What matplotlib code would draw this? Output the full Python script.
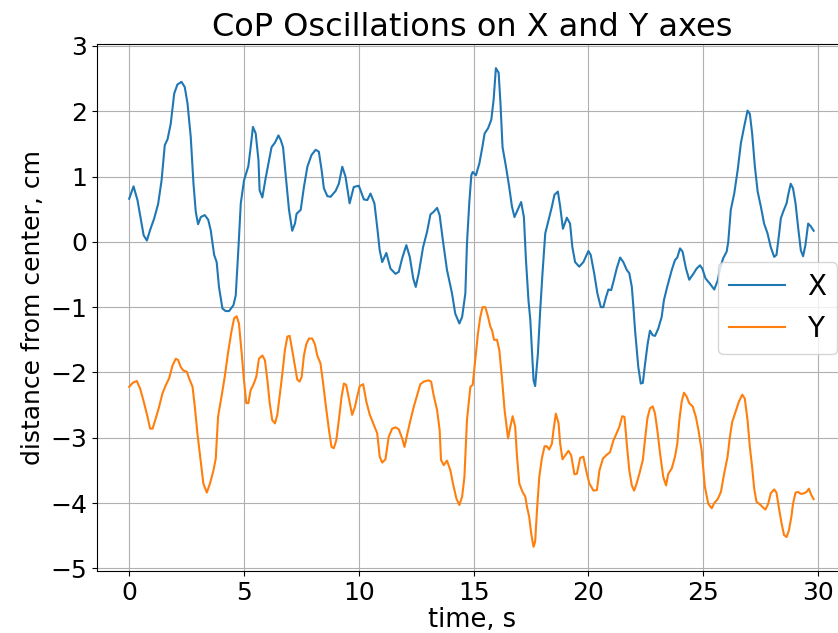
import matplotlib
matplotlib.use("Agg")
import matplotlib.pyplot as plt

# Centre-of-pressure displacement along X (time in s, distance in cm)
time_x = [0.00, 0.19, 0.36, 0.63, 0.77, 0.91, 1.09, 1.26, 1.41, 1.55, 1.67, 1.81, 1.96, 2.10, 2.28, 2.42,
          2.54, 2.68, 2.80, 2.90, 3.00, 3.12, 3.29, 3.44, 3.55, 3.70, 3.81, 3.91, 4.06, 4.20, 4.35, 4.54,
          4.64, 4.76, 4.86, 5.00, 5.19, 5.29, 5.39, 5.51, 5.63, 5.68, 5.80, 5.94, 6.09, 6.20, 6.35, 6.50,
          6.60, 6.70, 6.81, 6.96, 7.10, 7.22, 7.29, 7.47, 7.61, 7.76, 7.94, 8.12, 8.26, 8.38, 8.48, 8.63,
          8.77, 8.99, 9.13, 9.28, 9.42, 9.60, 9.78, 10.00, 10.22, 10.37, 10.51, 10.68, 10.80, 10.91, 11.02,
          11.20, 11.38, 11.60, 11.74, 11.89, 12.07, 12.22, 12.37, 12.48, 12.61, 12.80, 12.97, 13.12, 13.26,
          13.41, 13.52, 13.67, 13.84, 14.06, 14.20, 14.38, 14.50, 14.64, 14.71, 14.81, 14.90, 14.96, 15.10,
          15.25, 15.37, 15.48, 15.63, 15.77, 15.87, 15.97, 16.09, 16.17, 16.26, 16.41, 16.55, 16.67, 16.78,
          16.93, 17.07, 17.19, 17.28, 17.39, 17.47, 17.61, 17.68, 17.80, 17.90, 18.00, 18.12, 18.26, 18.41,
          18.52, 18.67, 18.77, 18.89, 19.06, 19.20, 19.30, 19.42, 19.60, 19.78, 20.00, 20.10, 20.25, 20.39,
          20.54, 20.65, 20.77, 20.87, 20.99, 21.09, 21.23, 21.38, 21.52, 21.67, 21.78, 21.89, 21.96, 22.03,
          22.17, 22.28, 22.37, 22.47, 22.58, 22.68, 22.80, 22.90, 23.04, 23.19, 23.29, 23.43, 23.63, 23.77,
          23.87, 23.99, 24.10, 24.25, 24.39, 24.57, 24.71, 24.86, 24.96, 25.10, 25.29, 25.48, 25.63, 25.73,
          25.87, 26.02, 26.09, 26.20, 26.35, 26.50, 26.64, 26.78, 26.93, 27.03, 27.13, 27.25, 27.37, 27.51,
          27.65, 27.80, 27.94, 28.09, 28.19, 28.29, 28.38, 28.48, 28.63, 28.70, 28.81, 28.91, 29.02, 29.13,
          29.25, 29.35, 29.45, 29.57, 29.68, 29.81]
cop_x = [0.66, 0.85, 0.64, 0.10, 0.02, 0.18, 0.36, 0.58, 0.94, 1.48, 1.57, 1.81, 2.27, 2.41, 2.45, 2.37,
         2.12, 1.61, 0.89, 0.46, 0.27, 0.38, 0.41, 0.34, 0.18, -0.20, -0.31, -0.69, -1.02, -1.06, -1.06, -0.97,
         -0.82, -0.08, 0.59, 0.94, 1.16, 1.45, 1.76, 1.66, 1.25, 0.79, 0.68, 0.97, 1.25, 1.45, 1.52, 1.63,
         1.56, 1.45, 1.05, 0.49, 0.17, 0.28, 0.43, 0.49, 0.84, 1.15, 1.33, 1.41, 1.38, 1.10, 0.82, 0.70,
         0.69, 0.78, 0.89, 1.15, 1.00, 0.59, 0.84, 0.86, 0.65, 0.64, 0.74, 0.59, 0.23, -0.13, -0.31,
         -0.17, -0.41, -0.49, -0.46, -0.25, -0.05, -0.23, -0.56, -0.69, -0.48, -0.08, 0.15, 0.42, 0.46,
         0.52, 0.41, 0.00, -0.43, -0.79, -1.10, -1.25, -1.15, -0.79, -0.03, 0.59, 1.02, 1.07, 1.02,
         1.20, 1.43, 1.66, 1.74, 1.87, 2.17, 2.66, 2.59, 2.12, 1.45, 1.15, 0.84, 0.54, 0.38,
         0.50, 0.61, 0.38, -0.28, -0.90, -1.20, -2.12, -2.21, -1.71, -1.05, -0.48, 0.13, 0.33, 0.54,
         0.72, 0.77, 0.54, 0.20, 0.37, 0.28, -0.08, -0.31, -0.38, -0.31, -0.14, -0.20, -0.48, -0.79,
         -1.00, -1.00, -0.84, -0.73, -0.74, -0.61, -0.41, -0.24, -0.31, -0.43, -0.48, -0.69, -1.00, -1.35,
         -1.91, -2.17, -2.16, -1.86, -1.56, -1.36, -1.43, -1.44, -1.33, -1.15, -0.89, -0.69, -0.43, -0.28,
         -0.24, -0.10, -0.15, -0.41, -0.58, -0.49, -0.41, -0.36, -0.41, -0.56, -0.64, -0.73, -0.59, -0.41,
         -0.25, -0.15, 0.00, 0.49, 0.74, 1.10, 1.51, 1.76, 2.01, 1.96, 1.66, 1.15, 0.77, 0.54,
         0.28, 0.13, -0.08, -0.23, -0.20, 0.08, 0.36, 0.46, 0.59, 0.72, 0.89, 0.82, 0.59, 0.23,
         -0.13, -0.22, -0.05, 0.28, 0.24, 0.17]

# Centre-of-pressure displacement along Y
time_y = [0.00, 0.15, 0.33, 0.48, 0.65, 0.80, 0.91, 1.02, 1.16, 1.30, 1.45, 1.60, 1.74, 1.89, 2.03, 2.13,
          2.25, 2.36, 2.51, 2.61, 2.76, 2.86, 2.97, 3.09, 3.23, 3.38, 3.52, 3.67, 3.77, 3.87, 4.02, 4.16,
          4.30, 4.45, 4.57, 4.68, 4.78, 4.90, 5.00, 5.10, 5.19, 5.29, 5.43, 5.54, 5.65, 5.80, 5.91, 6.02,
          6.12, 6.23, 6.35, 6.45, 6.55, 6.67, 6.78, 6.89, 6.99, 7.10, 7.22, 7.32, 7.42, 7.51, 7.61, 7.71,
          7.83, 7.97, 8.09, 8.19, 8.33, 8.43, 8.55, 8.70, 8.81, 8.91, 9.02, 9.13, 9.25, 9.35, 9.45, 9.57,
          9.71, 9.83, 9.93, 10.04, 10.19, 10.33, 10.48, 10.63, 10.80, 10.91, 11.02, 11.16, 11.30, 11.45,
          11.60, 11.74, 11.89, 11.99, 12.10, 12.25, 12.39, 12.54, 12.68, 12.83, 13.04, 13.15, 13.26, 13.41,
          13.52, 13.58, 13.70, 13.84, 13.99, 14.10, 14.25, 14.38, 14.50, 14.60, 14.71, 14.86, 14.96, 15.07,
          15.19, 15.29, 15.39, 15.51, 15.63, 15.73, 15.80, 15.89, 16.02, 16.12, 16.23, 16.35, 16.50, 16.60,
          16.70, 16.81, 16.89, 16.99, 17.13, 17.25, 17.32, 17.42, 17.51, 17.61, 17.68, 17.76, 17.86, 17.97,
          18.09, 18.19, 18.29, 18.41, 18.48, 18.58, 18.70, 18.77, 18.87, 18.99, 19.13, 19.25, 19.39, 19.50,
          19.64, 19.78, 19.90, 20.04, 20.22, 20.37, 20.48, 20.63, 20.77, 20.94, 21.09, 21.23, 21.35, 21.47,
          21.57, 21.67, 21.78, 21.89, 21.99, 22.10, 22.22, 22.37, 22.47, 22.57, 22.68, 22.80, 22.90, 23.00,
          23.12, 23.26, 23.38, 23.48, 23.63, 23.77, 23.87, 23.96, 24.06, 24.16, 24.28, 24.39, 24.54, 24.68,
          24.80, 24.93, 25.07, 25.22, 25.37, 25.48, 25.63, 25.77, 25.91, 26.06, 26.16, 26.26, 26.41, 26.55,
          26.70, 26.81, 26.93, 27.03, 27.13, 27.22, 27.32, 27.47, 27.61, 27.71, 27.83, 27.94, 28.09, 28.19,
          28.29, 28.41, 28.52, 28.63, 28.73, 28.84, 28.91, 29.02, 29.13, 29.25, 29.39, 29.50, 29.60, 29.71,
          29.81]
cop_y = [-2.22, -2.16, -2.13, -2.25, -2.47, -2.68, -2.86, -2.86, -2.70, -2.53, -2.32, -2.19, -2.09, -1.89, -1.79, -1.81,
         -1.92, -1.97, -1.99, -2.09, -2.22, -2.53, -2.93, -3.29, -3.70, -3.84, -3.70, -3.50, -3.32, -2.68, -2.37, -2.07,
         -1.71, -1.38, -1.17, -1.14, -1.25, -1.71, -2.12, -2.47, -2.47, -2.27, -2.17, -2.06, -1.79, -1.74, -1.81, -2.12,
         -2.47, -2.73, -2.78, -2.65, -2.37, -2.02, -1.66, -1.45, -1.44, -1.66, -1.91, -2.11, -2.14, -2.07, -1.74, -1.57,
         -1.48, -1.48, -1.57, -1.74, -1.86, -2.12, -2.47, -2.88, -3.14, -3.16, -3.04, -2.73, -2.37, -2.17, -2.19, -2.40,
         -2.65, -2.53, -2.37, -2.21, -2.18, -2.45, -2.65, -2.78, -2.93, -3.29, -3.38, -3.33, -2.99, -2.86,
         -2.84, -2.87, -3.01, -3.14, -2.96, -2.73, -2.53, -2.35, -2.18, -2.14, -2.12, -2.14, -2.35, -2.58,
         -2.88, -3.34, -3.42, -3.35, -3.50, -3.70, -3.93, -4.03, -3.90, -3.60, -2.73, -2.22, -2.19, -1.81,
         -1.40, -1.15, -1.00, -1.00, -1.15, -1.30, -1.35, -1.50, -1.50, -1.66, -2.07, -2.58, -3.01, -2.83,
         -2.67, -2.83, -3.29, -3.70, -3.83, -3.90, -4.05, -4.21, -4.47, -4.67, -4.59, -4.11, -3.60, -3.32,
         -3.13, -3.13, -3.18, -3.09, -2.88, -2.63, -2.78, -3.09, -3.33, -3.27, -3.20, -3.27, -3.56, -3.55,
         -3.31, -3.29, -3.50, -3.70, -3.81, -3.80, -3.50, -3.32, -3.27, -3.22, -3.04, -2.93, -2.83, -2.67,
         -2.68, -3.09, -3.50, -3.73, -3.81, -3.70, -3.55, -3.34, -3.01, -2.70, -2.55, -2.52, -2.63, -2.88,
         -3.24, -3.60, -3.73, -3.55, -3.47, -3.29, -3.09, -2.73, -2.45, -2.31, -2.37, -2.47, -2.52, -2.68,
         -2.90, -3.19, -3.75, -4.01, -4.08, -4.00, -3.94, -3.83, -3.55, -3.29, -2.99, -2.76, -2.60, -2.45,
         -2.34, -2.40, -2.73, -3.14, -3.45, -3.78, -3.98, -4.02, -4.07, -4.10, -4.01, -3.85, -3.79, -3.84,
         -4.06, -4.31, -4.49, -4.52, -4.42, -4.21, -4.01, -3.84, -3.83, -3.86, -3.85, -3.83, -3.78, -3.88,
         -3.94]

x_ticks = [0, 5, 10, 15, 20, 25, 30]
y_ticks = [-5, -4, -3, -2, -1, 0, 1, 2, 3]

fig = plt.figure(figsize=(8.38, 6.33), dpi=100)
ax = fig.add_axes([0.1158, 0.098, 0.896, 0.8325])

ax.plot(time_x, cop_x, color="tab:blue", linewidth=1.5, label="X")
ax.plot(time_y, cop_y, color="tab:orange", linewidth=1.5, label="Y")

ax.set_xlim(-1.40, 31.3)
ax.set_ylim(-5.04, 3.03)
ax.set_xticks(x_ticks)
ax.set_yticks(y_ticks)
ax.tick_params(labelsize=18)
ax.grid(True)

ax.set_title("CoP Oscillations on X and Y axes", fontsize=23)
ax.set_xlabel("time, s", fontsize=18.5, labelpad=1.5)
ax.set_ylabel("distance from center, cm", fontsize=18)
ax.legend(loc="center left", bbox_to_anchor=(0.809, 0.499), fontsize=20)

fig.savefig("out.png", dpi=100)
